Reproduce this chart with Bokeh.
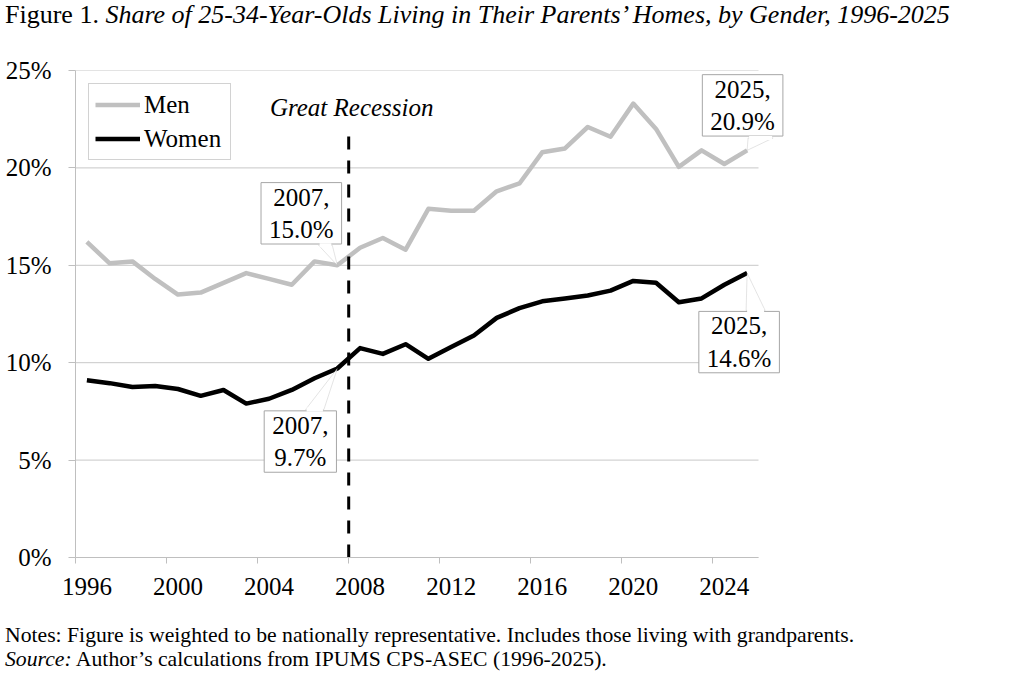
from bokeh.plotting import figure
from bokeh.layouts import column
from bokeh.models import (Range1d, FixedTicker, Label, Legend, LegendItem, PolyAnnotation, Div)
from bokeh.embed import file_html
from bokeh.resources import INLINE

# ---------------- data ----------------
years = list(range(1996, 2026))
men = [16.2, 15.1, 15.2, 14.3, 13.5, 13.6, 14.1, 14.6, 14.3, 14.0,
       15.2, 15.0, 15.9, 16.4, 15.8, 17.9, 17.8, 17.8, 18.8, 19.2,
       20.8, 21.0, 22.1, 21.6, 23.3, 22.0, 20.05, 20.9, 20.2, 20.9]
women = [9.1, 8.95, 8.75, 8.8, 8.65, 8.3, 8.6, 7.9, 8.15, 8.6,
         9.2, 9.7, 10.75, 10.45, 10.95, 10.2, 10.8, 11.4, 12.3, 12.8,
         13.15, 13.3, 13.45, 13.7, 14.2, 14.1, 13.1, 13.3, 14.0, 14.6]
x_tick_years = [1996, 2000, 2004, 2008, 2012, 2016, 2020, 2024]
y_ticks = [0, 5, 10, 15, 20, 25]
y_tick_labels = ["0%", "5%", "10%", "15%", "20%", "25%"]
recession_year = 2007.5
recession_top = 21.8

title_plain = "Figure 1."
title_italic = "Share of 25-34-Year-Olds Living in Their Parents’ Homes, by Gender, 1996-2025"
notes_text = "Notes: Figure is weighted to be nationally representative. Includes those living with grandparents."
source_italic = "Source:"
source_text = "Author’s calculations from IPUMS CPS-ASEC (1996-2025)."

FONT = "Liberation Serif"
GRAY_LINE = "#bfbfbf"
GRID = "#c8c8c8"
BOX_GRAY = "#a6a6a6"

PAGE_W = 1020
TOP_H = 40          # title strip
MAIN_H = 570        # chart
NOTE_H = 72         # notes strip

ML, MT = 75, 30     # frame left / top inside the chart figure
FW_DATA = 683       # width of the data area (px)
EXTRA_R = 32        # frame extends right of the data area for callouts
FH = 487
MR = PAGE_W - ML - FW_DATA - EXTRA_R
MB = MAIN_H - MT - FH

x0, x1 = years[0] - 0.5, years[-1] + 0.5
y0, y1 = y_ticks[0], y_ticks[-1]
PX_X = FW_DATA / (x1 - x0)
PX_Y = FH / (y1 - y0)

# ---------------- title strip ----------------
top = Div(text=(f'<div style="font-family:\'{FONT}\';font-size:26px;line-height:29px;'
                f'color:black;white-space:nowrap;padding-left:5px;margin:0;">'
                f'{title_plain} <i>{title_italic}</i></div>'),
          width=PAGE_W, height=TOP_H, margin=(0, 0, 0, 0))

# ---------------- chart ----------------
p = figure(width=PAGE_W, height=MAIN_H,
           x_range=Range1d(x0, x1 + EXTRA_R / PX_X), y_range=Range1d(y0, y1),
           output_backend="svg", toolbar_location=None,
           min_border_left=ML, min_border_right=MR, min_border_top=MT, min_border_bottom=MB)
p.outline_line_color = None
p.background_fill_color = "white"
p.border_fill_color = "white"
p.grid.visible = False

# horizontal gridlines limited to the data area
p.segment(x0=[x0] * len(y_ticks), y0=y_ticks, x1=[x1] * len(y_ticks), y1=y_ticks,
          line_color=GRID, line_width=1)

# axes
p.xaxis.bounds = (x0, x1)
p.xaxis.ticker = FixedTicker(ticks=x_tick_years, minor_ticks=[y - 0.5 for y in x_tick_years])
p.xaxis.major_label_overrides = {y: str(y) for y in x_tick_years}
p.xaxis.major_tick_out = 0
p.xaxis.major_tick_in = 0
p.xaxis.minor_tick_out = 6
p.xaxis.minor_tick_in = 0
p.xaxis.minor_tick_line_color = GRAY_LINE
p.xaxis.axis_line_color = GRAY_LINE
p.xaxis.major_label_standoff = 14

p.yaxis.ticker = FixedTicker(ticks=y_ticks, minor_ticks=[])
p.yaxis.major_label_overrides = dict(zip(y_ticks, y_tick_labels))
p.yaxis.major_tick_out = 7
p.yaxis.major_tick_in = 0
p.yaxis.major_tick_line_color = GRAY_LINE
p.yaxis.axis_line_color = GRAY_LINE
p.yaxis.major_label_standoff = 17

for ax in (p.xaxis, p.yaxis):
    ax.major_label_text_font = FONT
    ax.major_label_text_font_size = "25px"
    ax.major_label_text_color = "black"

# series
r_men = p.line(years, men, line_color="#c0c0c0", line_width=4.5, line_join="round")
r_women = p.line(years, women, line_color="black", line_width=4.5, line_join="round")

# recession line
p.segment(x0=[recession_year], y0=[0], x1=[recession_year], y1=[recession_top],
          line_color="black", line_width=3, line_dash="13 11")
p.add_layout(Label(x=recession_year, y=FH - (106.5 - 70), x_units="data", y_units="screen",
                   x_offset=3, text="Great Recession", text_font=FONT, text_font_size="25px",
                   text_font_style="italic", text_align="center", text_baseline="middle",
                   text_color="black"))

# legend
legend = Legend(items=[LegendItem(label="Men", renderers=[r_men]),
                       LegendItem(label="Women", renderers=[r_women])],
                location="top_left", margin=13, padding=6, spacing=5,
                glyph_width=45, glyph_height=29, label_height=29, label_width=80,
                label_standoff=4,
                label_text_font=FONT, label_text_font_size="25px", label_text_color="black",
                border_line_color=BOX_GRAY, border_line_width=1,
                background_fill_color="white", background_fill_alpha=1)
p.add_layout(legend)


# callouts: box offset in px (dx, dy up) and pointer base in px (dx, dy down) from the point
def callout(series, year, box_dx, box_dy, base):
    v = series[years.index(year)]
    (bx1, by), (bx2, _) = base
    p.add_layout(PolyAnnotation(xs=[year, year + bx1 / PX_X, year + bx2 / PX_X],
                                ys=[v, v - by / PX_Y, v - by / PX_Y],
                                fill_color="white", fill_alpha=1,
                                line_color=BOX_GRAY, line_width=1))
    p.add_layout(Label(x=year, y=v, x_offset=box_dx, y_offset=box_dy,
                       text=f"{year},\n{v:.1f}%", text_font=FONT, text_font_size="25px",
                       text_align="center", text_baseline="middle", text_color="black",
                       background_fill_color="white", background_fill_alpha=1,
                       border_line_color=BOX_GRAY, border_line_width=1,
                       padding=(8, 1)))
    s = 1 if by > 0 else -1
    p.add_layout(PolyAnnotation(xs=[year + (bx1 + 1) / PX_X, year + (bx2 - 1) / PX_X,
                                    year + (bx2 - 1) / PX_X, year + (bx1 + 1) / PX_X],
                                ys=[v - (by - 2 * s) / PX_Y, v - (by - 2 * s) / PX_Y,
                                    v - (by + 2 * s) / PX_Y, v - (by + 2 * s) / PX_Y],
                                fill_color="white", fill_alpha=1, line_color=None))


callout(men, 2007, -36, 52, [(-18.7, -20), (-5, -20)])
callout(women, 2007, -37, -73, [(-31.7, 41), (-13.4, 41)])
callout(men, 2025, -4.5, 45, [(1, -12.4), (26, -12.4)])
callout(women, 2025, -8, -69, [(-1, 37.3), (18, 37.3)])

# ---------------- notes strip ----------------
notes = Div(text=(f'<div style="font-family:\'{FONT}\';font-size:21.7px;line-height:24px;'
                  f'color:black;white-space:nowrap;padding-left:5px;padding-top:13px;margin:0;">'
                  f'{notes_text}<br><i>{source_italic}</i> {source_text}</div>'),
            width=PAGE_W, height=NOTE_H, margin=(0, 0, 0, 0))

layout = column(top, p, notes, spacing=0)
open("out.html", "w").write(file_html(layout, INLINE))
